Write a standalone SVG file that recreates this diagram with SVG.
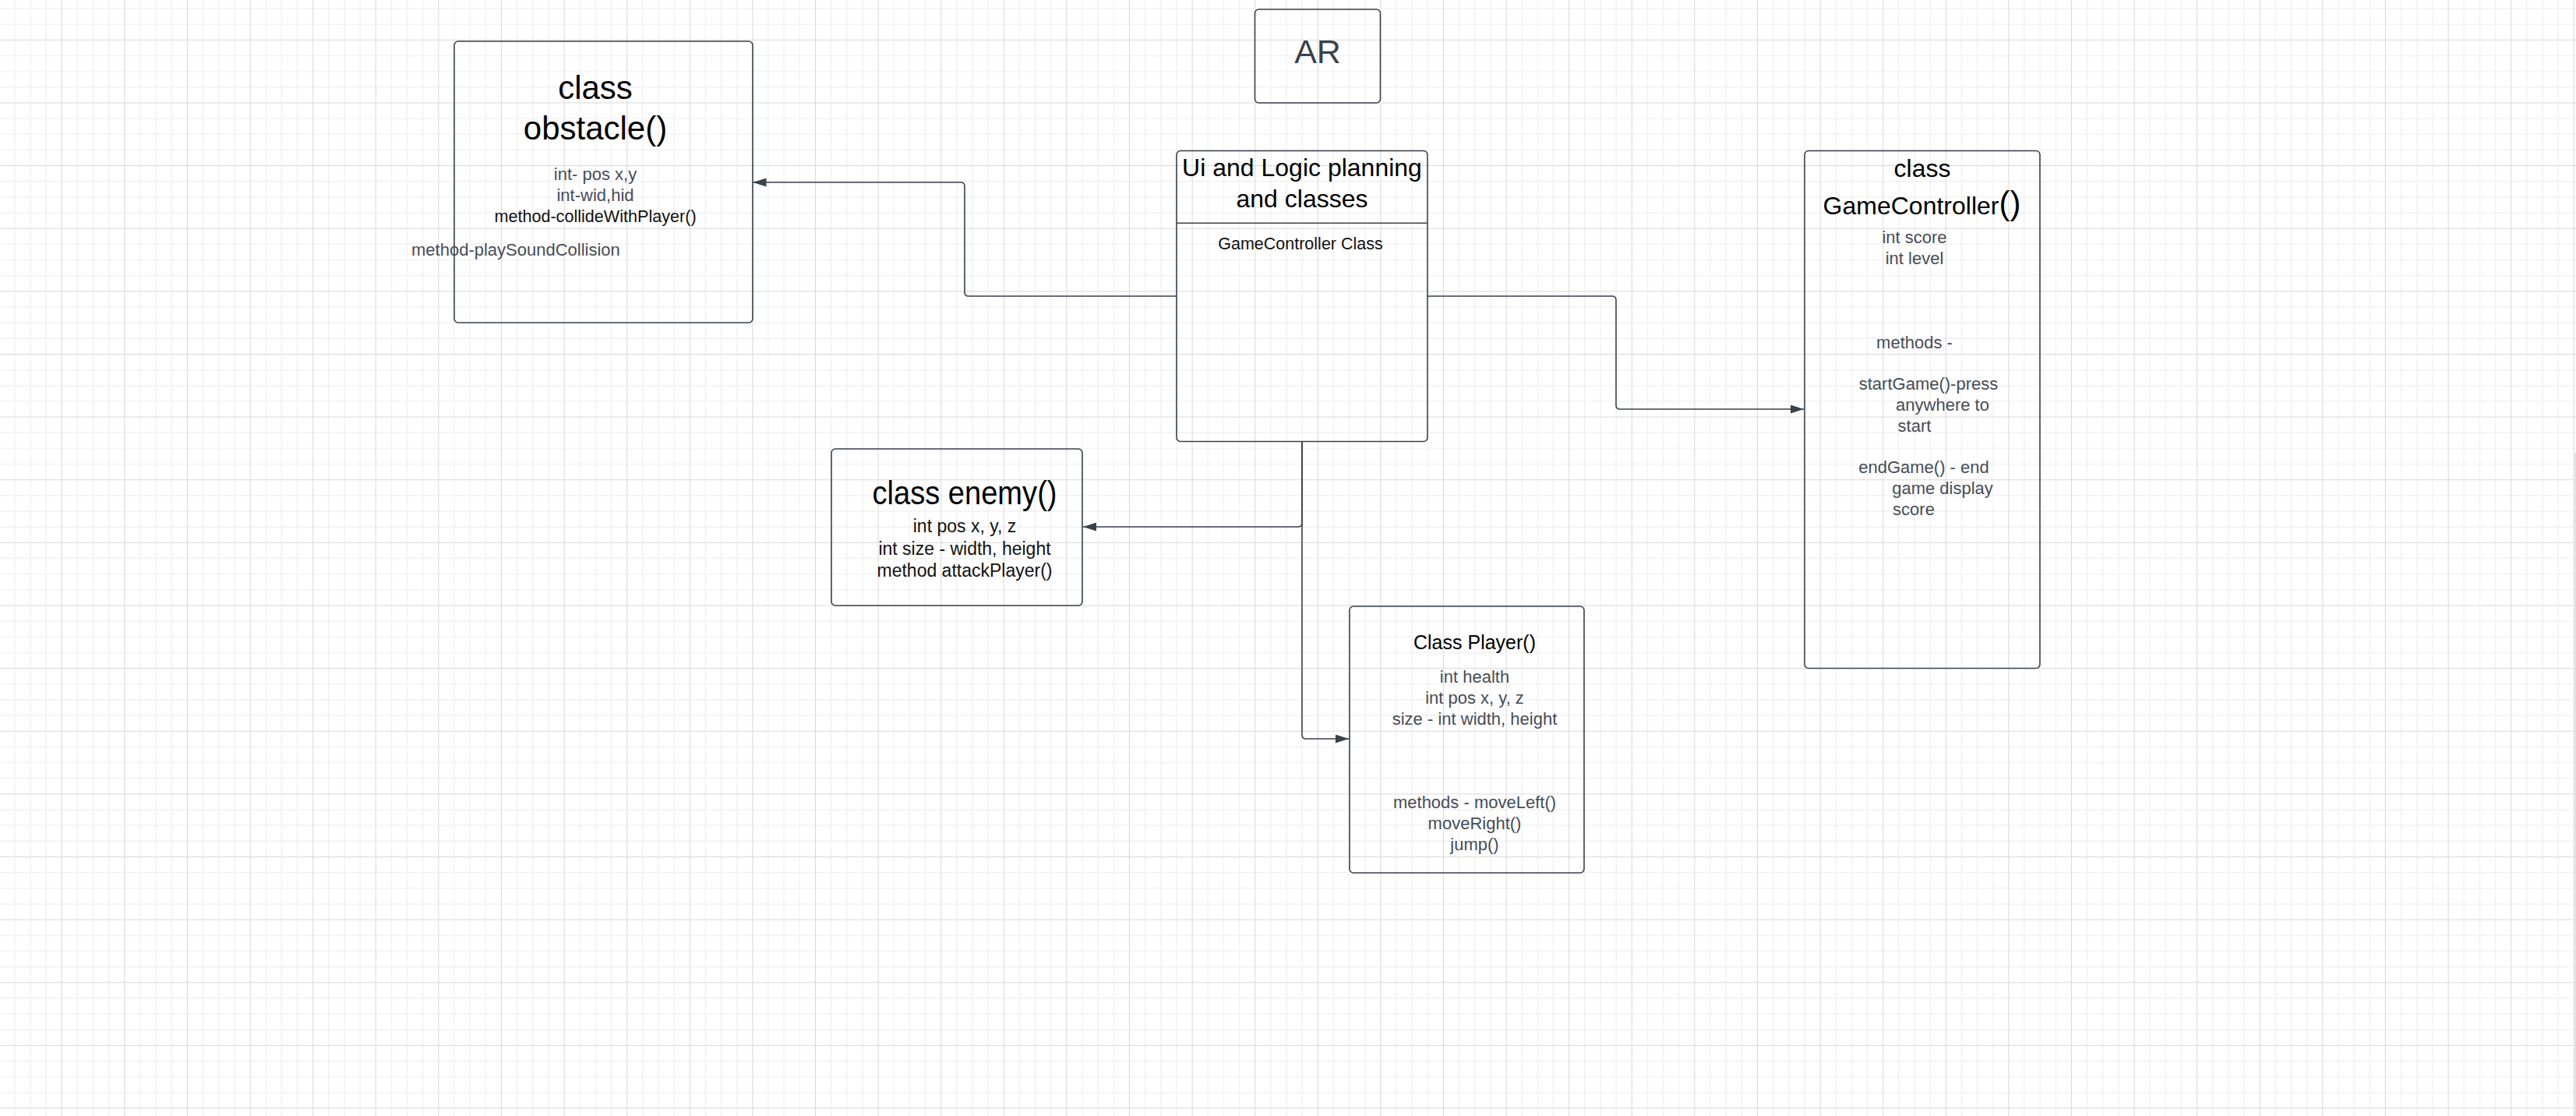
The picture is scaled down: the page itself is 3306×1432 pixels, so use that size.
<svg xmlns="http://www.w3.org/2000/svg" width="3306" height="1432" viewBox="0 0 3306 1432">
  <style>
    .box { fill: none; stroke: #3a414a; stroke-width: 1.6; }
    .conn { fill: none; stroke: #3a414a; stroke-width: 1.6; }
    text { font-family: "Liberation Sans", Arial, sans-serif; }
    .title { fill: #000; }
    .gray { fill: #464d57; font-size: 22px; }
    .dark { fill: #111; }
    .mid { text-anchor: middle; }
  </style>
  <defs>
    <pattern id="grid" patternUnits="userSpaceOnUse" x="78.8" y="50.8" width="80.6" height="80.63">
      <rect x="20.15" y="0" width="1" height="80.63" fill="#ebebeb"/>
      <rect x="40.3" y="0" width="1" height="80.63" fill="#ebebeb"/>
      <rect x="60.45" y="0" width="1" height="80.63" fill="#ebebeb"/>
      <rect x="0" y="20.16" width="80.6" height="1" fill="#ebebeb"/>
      <rect x="0" y="40.32" width="80.6" height="1" fill="#ebebeb"/>
      <rect x="0" y="60.47" width="80.6" height="1" fill="#ebebeb"/>
      <rect x="0" y="0" width="1" height="80.63" fill="#d9d9d9"/>
      <rect x="0" y="0" width="80.6" height="1" fill="#d9d9d9"/>
    </pattern>
    <marker id="arrow" markerUnits="userSpaceOnUse" markerWidth="17" markerHeight="11" refX="17" refY="5.5" orient="auto">
      <path d="M0,0 L17,5.5 L0,11 z" fill="#3a414a"/>
    </marker>
  </defs>

  <rect x="0" y="0" width="3306" height="1432" fill="#ffffff"/>
  <rect x="0" y="0" width="3306" height="1432" fill="url(#grid)"/>
  <rect x="3303" y="581" width="3" height="851" fill="#e3e2e8"/>

  <g id="connectors">
    <path class="conn" d="M1510,380 H1243 Q1238,380 1238,375 V239 Q1238,234 1233,234 H966.5" marker-end="url(#arrow)"/>
    <path class="conn" d="M1832,380 H2069 Q2074,380 2074,385 V520 Q2074,525 2079,525 H2315" marker-end="url(#arrow)"/>
    <path class="conn" d="M1671,567 V671 Q1671,676 1666,676 H1390" marker-end="url(#arrow)"/>
    <path class="conn" d="M1671,567 V943 Q1671,948 1676,948 H1731" marker-end="url(#arrow)"/>
  </g>

  <g id="obstacle">
    <rect class="box" x="583" y="53" width="383" height="361" rx="5"/>
    <text class="title mid" x="764" y="127" font-size="42">class</text>
    <text class="title mid" x="764" y="179" font-size="42">obstacle()</text>
    <text class="gray mid" x="764" y="231">int- pos x,y</text>
    <text class="gray mid" x="764" y="258">int-wid,hid</text>
    <text class="dark mid" x="764" y="285" font-size="21.6">method-collideWithPlayer()</text>
    <text class="gray" x="528" y="328">method-playSoundCollision</text>
  </g>

  <g id="ar">
    <rect class="box" x="1610.5" y="12" width="161" height="120" rx="5"/>
    <text class="mid" x="1691" y="81" font-size="43" fill="#3a414a">AR</text>
  </g>

  <g id="ui-logic">
    <rect class="box" x="1510" y="193.5" width="322" height="373" rx="5"/>
    <line class="conn" x1="1510" y1="286.3" x2="1832" y2="286.3"/>
    <text class="title mid" x="1671" y="226" font-size="32">Ui and Logic planning</text>
    <text class="title mid" x="1671" y="266" font-size="32">and classes</text>
    <text class="dark mid" x="1669" y="320" font-size="21.5">GameController Class</text>
  </g>

  <g id="gamecontroller">
    <rect class="box" x="2316" y="193.5" width="302" height="664" rx="5"/>
    <text class="title mid" x="2467" y="227" font-size="32">class</text>
    <text class="title mid" x="2466.5" y="275" font-size="32">GameController<tspan font-size="42">()</tspan></text>
    <text class="gray mid" x="2457" y="312">int score</text>
    <text class="gray mid" x="2457" y="338.5">int level</text>
    <text class="gray mid" x="2457" y="446.5">methods -</text>
    <text class="gray mid" x="2475" y="500">startGame()-press</text>
    <text class="gray mid" x="2493" y="527">anywhere to</text>
    <text class="gray mid" x="2457" y="554">start</text>
    <text class="gray mid" x="2469" y="607">endGame() - end</text>
    <text class="gray mid" x="2493" y="634">game display</text>
    <text class="gray mid" x="2456" y="661">score</text>
  </g>

  <g id="enemy">
    <rect class="box" x="1067" y="576" width="322" height="201" rx="5"/>
    <text class="title mid" x="1238" y="647" font-size="42" textLength="237" lengthAdjust="spacingAndGlyphs">class enemy()</text>
    <text class="dark mid" x="1238" y="683" font-size="23">int pos x, y, z</text>
    <text class="dark mid" x="1238" y="712" font-size="23">int size - width, height</text>
    <text class="dark mid" x="1238" y="740" font-size="23">method attackPlayer()</text>
  </g>

  <g id="player">
    <rect class="box" x="1732" y="778" width="301" height="342" rx="5"/>
    <text class="title mid" x="1892.5" y="833" font-size="25">Class Player()</text>
    <text class="gray mid" x="1892.5" y="876">int health</text>
    <text class="gray mid" x="1892.5" y="903">int pos x, y, z</text>
    <text class="gray mid" x="1892.5" y="930">size - int width, height</text>
    <text class="gray mid" x="1892.5" y="1037">methods - moveLeft()</text>
    <text class="gray mid" x="1892.5" y="1064">moveRight()</text>
    <text class="gray mid" x="1892.5" y="1091">jump()</text>
  </g>
</svg>
